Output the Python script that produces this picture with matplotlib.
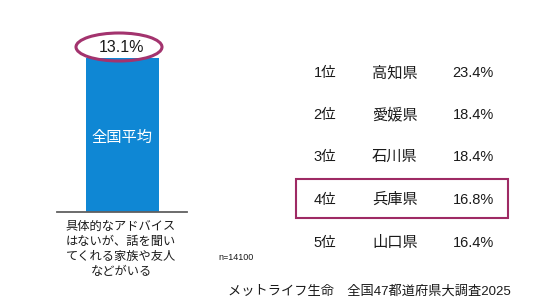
import matplotlib.pyplot as plt
from matplotlib.patches import Ellipse, Rectangle

plt.rcParams['font.family'] = ['Liberation Sans', 'Noto Sans CJK JP', 'DejaVu Sans']

avg_label = '全国平均'
avg_value = 13.1
avg_category = ['具体的なアドバイス', 'はないが、話を聞い', 'てくれる家族や友人', 'などがいる']

ranks = ['1位', '2位', '3位', '4位', '5位']
prefs = ['高知県', '愛媛県', '石川県', '兵庫県', '山口県']
values = [23.4, 18.4, 18.4, 16.8, 16.4]
highlight = 3

W, H = 536, 304
fig = plt.figure(figsize=(W / 100, H / 100), dpi=100)

# bar axes
ax = fig.add_axes([57 / W, (H - 212) / H, 130 / W, 192 / H])
ax.bar([0], [avg_value], width=73 / 130, color='#0f87d4')
ax.set_xlim(-0.5, 0.5)
ax.set_ylim(0, avg_value * 192 / 154)
for s in ['top', 'right', 'left']:
    ax.spines[s].set_visible(False)
ax.spines['bottom'].set_color('#606060')
ax.spines['bottom'].set_linewidth(1.3)
ax.set_xticks([])
ax.set_yticks([])
ax.patch.set_alpha(0)
ax.text(0, avg_value * 0.48, avg_label, color='white', ha='center', va='center', fontsize=11)

# overlay in pixel coordinates
ov = fig.add_axes([0, 0, 1, 1])
ov.set_xlim(0, W)
ov.set_ylim(H, 0)
ov.axis('off')
ov.patch.set_alpha(0)

ov.add_patch(Ellipse((119, 47), 86, 28, fill=False, edgecolor='#a3336e', lw=2.2))
ov.text(121, 47, f'{avg_value}%', ha='center', va='center', fontsize=11.5, color='#1a1a1a')
for k, line in enumerate(avg_category):
    ov.text(121, 227 + 15 * k, line, ha='center', va='center', fontsize=8.8, color='#1a1a1a')

row_y = [73, 115, 157, 200, 243]
for i, (r, p, v) in enumerate(zip(ranks, prefs, values)):
    y = row_y[i]
    ov.text(325, y, r, ha='center', va='center', fontsize=10.5, color='#1a1a1a')
    ov.text(395, y, p, ha='center', va='center', fontsize=11, color='#1a1a1a')
    ov.text(473, y, f'{v}%', ha='center', va='center', fontsize=10.5, color='#1a1a1a')

hy = row_y[highlight]
ov.add_patch(Rectangle((296, hy - 21), 212, 39, fill=False, edgecolor='#9e2a64', lw=1.5))

ov.text(218, 257, 'n=14100', ha='left', va='center', fontsize=6.5, color='#1a1a1a')
ov.text(369, 291, 'メットライフ生命　全国47都道府県大調査2025', ha='center', va='center',
        fontsize=9.5, color='#1a1a1a')

fig.savefig('out.png', dpi=100)
